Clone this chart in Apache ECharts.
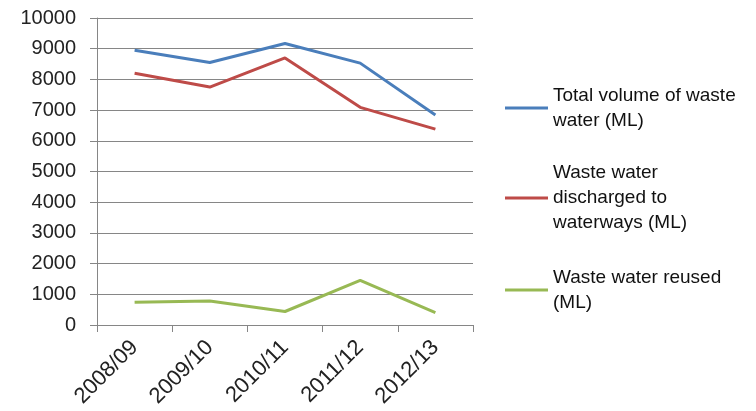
<!DOCTYPE html>
<html>
<head>
<meta charset="utf-8">
<script src="https://cdn.jsdelivr.net/npm/echarts@6/dist/echarts.min.js"></script>
<style>
  html, body { margin: 0; padding: 0; background: #fff; }
  #main { width: 756px; height: 411px; }
</style>
</head>
<body>
<div id="main"></div>
<script>
var years = ['2008/09', '2009/10', '2010/11', '2011/12', '2012/13'];
var totalVolume = [8950, 8550, 9170, 8530, 6840];
var discharged = [8200, 7750, 8700, 7090, 6380];
var reused = [740, 780, 440, 1450, 400];

var names = [
    'Total volume of waste\nwater (ML)',
    'Waste water\ndischarged to\nwaterways (ML)',
    'Waste water reused\n(ML)'
];
var colors = ['#4a7ebb', '#be4b48', '#98b954'];

var chart = echarts.init(document.getElementById('main'));

var lineH = 25;
var iconY = [108, 198, 290];

// one legend per series so the icon sits on the first text line
var legends = names.map(function (name, i) {
    var n = name.split('\n').length;
    return {
        data: [{ name: name, icon: 'rect' }],
        orient: 'vertical',
        left: 505,
        top: iconY[i] - (n - 0.5) * lineH,
        padding: 0,
        itemWidth: 43,
        itemHeight: 3,
        itemGap: 0,
        textStyle: {
            fontFamily: 'Liberation Sans',
            fontSize: 19,
            color: '#111',
            lineHeight: lineH,
            padding: [(n - 1) * lineH, 0, 0, 0]
        }
    };
});

var option = {
    animation: false,
    backgroundColor: '#fff',
    legend: legends,
    grid: { left: 97, right: 283, top: 18, bottom: 86 },
    xAxis: {
        type: 'category',
        data: years,
        boundaryGap: true,
        axisLine: { lineStyle: { color: '#868686', width: 1 } },
        axisTick: { show: true, length: 7, lineStyle: { color: '#868686' } },
        axisLabel: {
            rotate: 45,
            margin: 19,
            fontFamily: 'Liberation Sans',
            fontSize: 22,
            color: '#222'
        }
    },
    yAxis: {
        type: 'value',
        min: 0,
        max: 10000,
        interval: 1000,
        axisLine: { show: true, lineStyle: { color: '#868686', width: 1 } },
        axisTick: { show: true, length: 7, lineStyle: { color: '#868686' } },
        splitLine: { lineStyle: { color: '#868686', width: 1 } },
        axisLabel: {
            margin: 21,
            fontFamily: 'Liberation Sans',
            fontSize: 20,
            color: '#222',
            formatter: function (v) { return String(v); }
        }
    },
    series: [
        { name: names[0], type: 'line', data: totalVolume },
        { name: names[1], type: 'line', data: discharged },
        { name: names[2], type: 'line', data: reused }
    ].map(function (s, i) {
        s.symbol = 'none';
        s.color = colors[i];
        s.lineStyle = { width: 3, color: colors[i] };
        return s;
    })
};

chart.setOption(option);
</script>
</body>
</html>
